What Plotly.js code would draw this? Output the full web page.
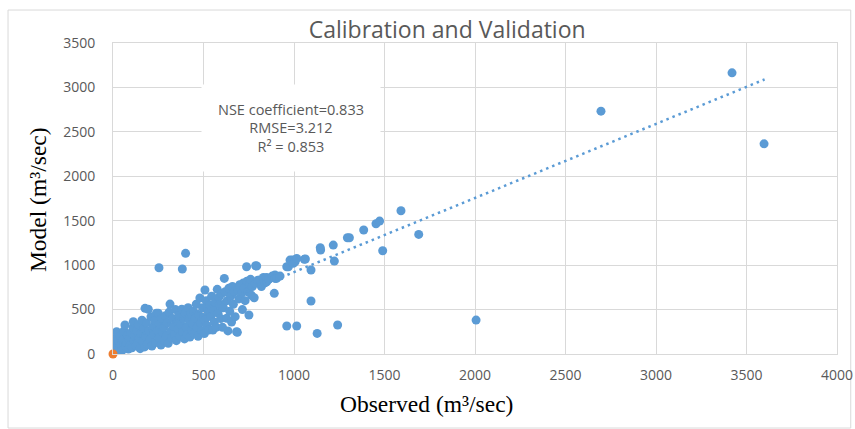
<!DOCTYPE html>
<html>
<head>
<meta charset="utf-8">
<script src="https://cdn.plot.ly/plotly-3.0.1.min.js"></script>
<style>html,body{margin:0;padding:0;background:#fff;}#chart{width:855px;height:429px;}</style>
</head>
<body>
<div id="chart"></div>
<script>
// Calibration / validation points: observed vs model (m3/sec)
const observed = [
  5,10,12,15,20,2,25,30,35,40,45,50,55,60,66,70,75,80,85,90,95,100,
  105,110,112,115,120,125,130,135,140,145,150,155,160,165,170,175,177,180,185,190,195,198,
  205,210,215,220,225,230,235,240,245,250,255,260,265,270,275,280,285,290,295,300,
  305,310,315,320,325,330,335,340,345,350,355,360,365,370,375,380,385,390,395,400,
  405,410,415,420,425,430,435,440,445,450,455,460,465,470,475,480,485,490,495,500,
  505,508,508,515,520,525,530,535,540,545,552,555,560,565,570,576,580,585,591,595,600,
  605,610,615,620,628,630,635,640,645,650,655,660,665,670,675,683,687,690,695,700,702,
  710,715,720,725,730,738,740,745,751,755,760,765,770,780,785,788,794,800,812,820,831,840,849,849,860,880,891,895,895,904,923,
  254,383,401,960,1015,1128,1241,1094,2006,960,969,978,991,996,1006,1015,1057,1063,1094,1145,1147,1217,1223,1295,1306,1385,1453,1473,1490,1591,1689,2696,3420,3597
];
const modelled = [
  60,120,30,180,251,138,90,150,60,200,110,40,160,260,326,90,130,210,55,170,100,240,
  70,300,363,150,200,95,260,120,330,180,60,230,380,140,290,80,514,200,350,110,503,260,
  160,420,90,300,220,380,130,460,260,458,180,340,100,400,240,300,150,430,200,350,
  120,470,562,260,180,400,310,220,500,150,360,280,440,200,330,503,250,400,170,460,
  300,220,520,380,190,450,270,340,480,230,400,560,300,200,440,630,350,260,520,410,
  230,720,382,600,320,480,270,550,420,650,270,500,360,580,300,728,460,640,551,400,680,
  300,520,851,700,401,600,260,740,480,650,360,760,560,700,420,251,244,720,620,780,757,
  680,500,800,740,600,982,820,700,439,780,840,660,760,633,795,993,990,830,832,760,862,800,813,862,840,877,683,889,851,851,877,
  971,956,1133,315,315,232,326,596,382,982,982,1057,1057,1020,1038,1076,1065,1069,945,1196,1170,1226,1046,1308,1308,1395,1466,1496,1162,1612,1346,2733,3164,2365
];
// second series (origin point)
const originX = [0];
const originY = [0];
// linear trendline end points
const trendX = [0, 3600];
const trendY = [88, 3090];

const xTicks = [0,500,1000,1500,2000,2500,3000,3500,4000];
const yTicks = [0,500,1000,1500,2000,2500,3000,3500];

const chartTitle = 'Calibration and Validation';
const xTitle = 'Observed (m³/sec)';
const yTitle = 'Model (m³/sec)';
const statsText = 'NSE coefficient=0.833<br>RMSE=3.212<br>R² = 0.853';

const grid = '#d9d9d9';
const tickFont = {family: 'Open Sans, Liberation Sans, sans-serif', size: 14, color: '#595959'};

const traces = [
  {x: observed, y: modelled, type: 'scatter', mode: 'markers',
   marker: {color: '#5B9BD5', size: 9}, hoverinfo: 'x+y'},
  {x: originX, y: originY, type: 'scatter', mode: 'markers',
   marker: {color: '#ED7D31', size: 9}, cliponaxis: false},
  {x: trendX, y: trendY, type: 'scatter', mode: 'lines',
   line: {color: '#5B9BD5', width: 2.5, dash: '2.5px,4px'}}
];

const layout = {
  width: 855, height: 429,
  margin: {l: 113, r: 18, t: 43, b: 75},
  paper_bgcolor: '#fff', plot_bgcolor: '#fff',
  showlegend: false,
  title: {text: chartTitle, x: 0.523, xanchor: 'center', xref: 'container',
          y: 0.93, yanchor: 'middle', yref: 'container',
          font: {family: 'Open Sans, Liberation Sans, sans-serif', size: 23, color: '#595959'}},
  xaxis: {range: [0, 4000], tickvals: xTicks, ticktext: xTicks.map(String),
          showgrid: true, gridcolor: grid, gridwidth: 1, zeroline: false,
          showline: true, linecolor: grid, mirror: true,
          ticks: 'outside', ticklen: 8, tickcolor: 'rgba(0,0,0,0)',
          tickfont: tickFont, fixedrange: true},
  yaxis: {range: [0, 3500], tickvals: yTicks, ticktext: yTicks.map(String),
          showgrid: true, gridcolor: grid, gridwidth: 1, zeroline: false,
          showline: true, linecolor: grid, mirror: true,
          ticks: 'outside', ticklen: 14, tickcolor: 'rgba(0,0,0,0)',
          tickfont: tickFont, fixedrange: true},
  annotations: [
    {text: statsText, xref: 'x', yref: 'y', x: 986, y: 2545, showarrow: false,
     bgcolor: '#fff', width: 176, height: 84, align: 'center',
     font: {family: 'Open Sans, Liberation Sans, sans-serif', size: 14.5, color: '#595959'}},
    {text: xTitle, xref: 'paper', yref: 'paper', x: 0.4337, y: -0.1608,
     xanchor: 'center', yanchor: 'middle', showarrow: false,
     font: {family: 'Liberation Serif, Times New Roman, serif', size: 23.5, color: '#000'}},
    {text: yTitle, xref: 'paper', yref: 'paper', x: -0.1036, y: 0.498, textangle: -90,
     xanchor: 'center', yanchor: 'middle', showarrow: false,
     font: {family: 'Liberation Serif, Times New Roman, serif', size: 23.5, color: '#000'}}
  ],
  shapes: [
    {type: 'rect', xref: 'paper', yref: 'paper', x0: -0.145, x1: 1.019, y0: -0.238, y1: 1.106,
     line: {color: grid, width: 1}, fillcolor: 'rgba(0,0,0,0)', layer: 'below'}
  ]
};

Plotly.newPlot('chart', traces, layout, {displayModeBar: false, staticPlot: true});
</script>
</body>
</html>
